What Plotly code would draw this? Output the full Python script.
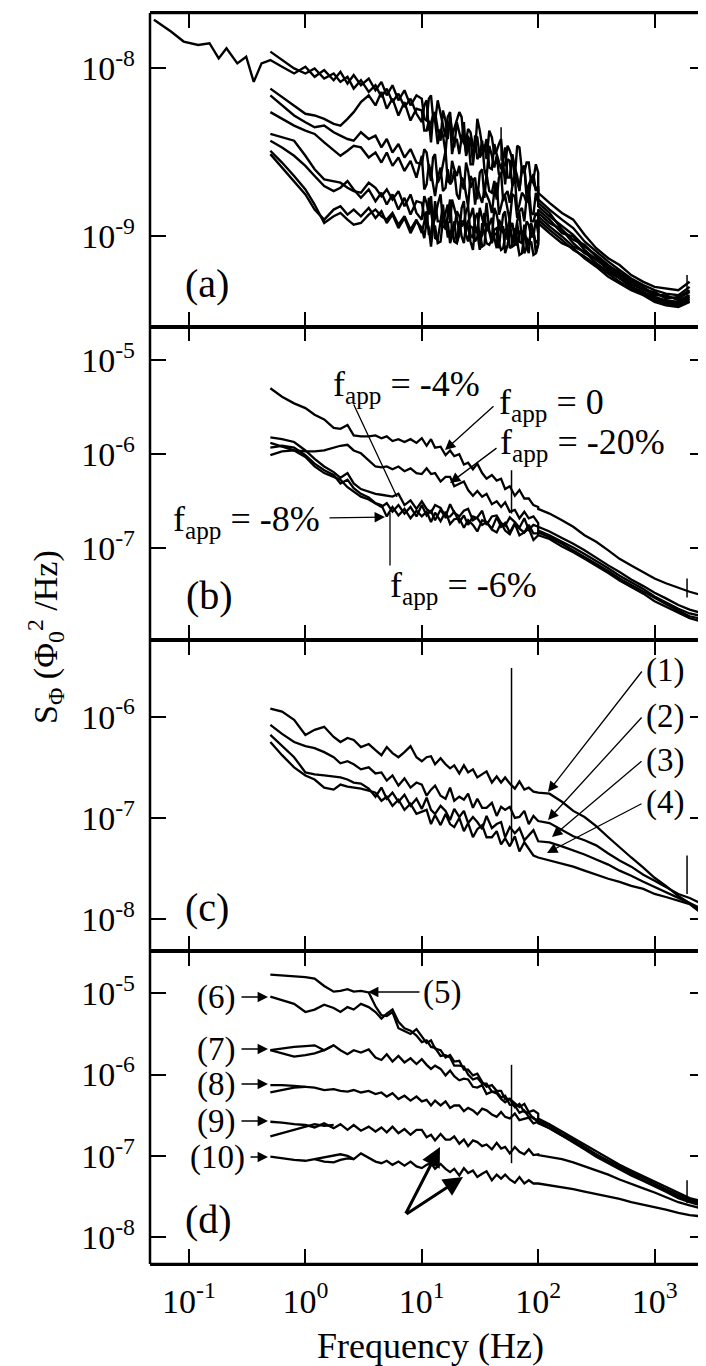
import plotly.graph_objects as go

# ---------------- data: frequencies in Hz, spectra given as log10(S_phi / (Phi0^2/Hz)) ----------------
F_LOW = [0.5, 0.63, 0.8, 1.0, 1.2, 1.45, 1.75, 2.0, 2.3, 2.6, 3.0, 3.5, 4.0, 4.5, 5.0, 5.6, 6.3, 7.1, 8.0, 9.0,
         10, 11, 12, 13, 14.5, 16, 17.5, 19, 21, 23, 25, 27.5, 30, 33, 36, 40, 44, 48, 52, 57, 63, 69, 76, 83, 91, 100]
F_HIGH = [100, 125, 160, 200, 250, 315, 400, 500, 630, 800, 1000, 1250, 1600, 2000, 2800]
F_LEAD = [0.05, 0.07, 0.09, 0.12, 0.15, 0.18, 0.21, 0.26, 0.31, 0.36, 0.42]
# extra readings in the dense 10-100 Hz band of panel (a)
F_EXTRA = [10.5, 11.5, 12.5, 13.7, 15.2, 16.7, 18.2, 20, 22, 24, 26.2, 28.7, 31.5, 34.5, 38, 42, 46, 50, 54.5, 60,
           66, 72.5, 79.5, 87, 95.5]

# panel (a)
A_LEAD = [-7.71, -7.78, -7.84, -7.86, -7.85, -7.94, -7.88, -7.97, -7.93, -8.08, -7.97]
A0_LOW = [-7.95, -7.99, -8.03, -7.99, -8.05, -8.01, -8.07, -8.02, -8.09, -8.04, -8.10, -8.06, -8.13, -8.08, -8.16, -8.10,
          -8.19, -8.13, -8.22, -8.16, -8.18, -8.31, -8.16, -8.32, -8.27, -8.41, -8.26, -8.36, -8.26, -8.45, -8.36, -8.46,
          -8.30, -8.46, -8.54, -8.41, -8.49, -8.42, -8.58, -8.49, -8.65, -8.47, -8.62, -8.56, -8.66, -8.62]
A0_EXTRA = [-8.30, -8.18, -8.29, -8.19, -8.34, -8.29, -8.40, -8.30, -8.29, -8.43, -8.38, -8.49, -8.37, -8.46, -8.37,
            -8.51, -8.45, -8.57, -8.46, -8.54, -8.46, -8.61, -8.56, -8.68, -8.57]
A0_HIGH = [-8.74, -8.80, -8.86, -8.90, -8.99, -9.07, -9.13, -9.17, -9.23, -9.27, -9.30, -9.31, -9.32, -9.27]
A1_LOW = [-7.90, -7.95, -8.00, -8.03, -8.00, -8.06, -8.03, -8.08, -8.05, -8.12, -8.07, -8.14, -8.10, -8.17, -8.12, -8.20,
          -8.15, -8.23, -8.18, -8.27, -8.32, -8.19, -8.32, -8.26, -8.43, -8.31, -8.29, -8.47, -8.39, -8.32, -8.48, -8.56,
          -8.41, -8.50, -8.42, -8.60, -8.51, -8.60, -8.47, -8.65, -8.59, -8.73, -8.58, -8.69, -8.63, -8.70]
A1_EXTRA = [-8.22, -8.37, -8.28, -8.36, -8.25, -8.42, -8.37, -8.32, -8.44, -8.52, -8.41, -8.40, -8.53, -8.48, -8.59,
            -8.45, -8.56, -8.54, -8.65, -8.51, -8.64, -8.59, -8.74, -8.66, -8.73]
A1_HIGH = [-8.78, -8.84, -8.90, -8.95, -9.03, -9.09, -9.15, -9.20, -9.25, -9.29, -9.32, -9.34, -9.35, -9.30]
A2_LOW = [-8.12, -8.17, -8.22, -8.27, -8.28, -8.30, -8.33, -8.34, -8.30, -8.26, -8.20, -8.16, -8.22, -8.14, -8.24, -8.18,
          -8.28, -8.20, -8.31, -8.24, -8.25, -8.37, -8.44, -8.31, -8.36, -8.50, -8.31, -8.44, -8.51, -8.42, -8.40, -8.57,
          -8.54, -8.43, -8.65, -8.52, -8.52, -8.64, -8.69, -8.55, -8.63, -8.72, -8.58, -8.76, -8.68, -8.72]
A2_EXTRA = [-8.37, -8.31, -8.28, -8.45, -8.40, -8.35, -8.51, -8.42, -8.41, -8.50, -8.57, -8.43, -8.51, -8.60, -8.46,
            -8.59, -8.63, -8.56, -8.54, -8.70, -8.68, -8.60, -8.77, -8.65, -8.72]
A2_HIGH = [-8.82, -8.88, -8.94, -8.99, -9.06, -9.11, -9.17, -9.22, -9.27, -9.31, -9.34, -9.36, -9.37, -9.33]
A3_LOW = [-8.16, -8.22, -8.28, -8.32, -8.35, -8.34, -8.38, -8.40, -8.42, -8.43, -8.38, -8.42, -8.40, -8.47, -8.42, -8.50,
          -8.45, -8.53, -8.48, -8.56, -8.57, -8.50, -8.67, -8.51, -8.64, -8.49, -8.68, -8.60, -8.58, -8.72, -8.61, -8.67,
          -8.78, -8.60, -8.63, -8.74, -8.78, -8.62, -8.75, -8.80, -8.64, -8.81, -8.76, -8.71, -8.87, -8.80]
A3_EXTRA = [-8.48, -8.59, -8.53, -8.68, -8.57, -8.67, -8.55, -8.64, -8.68, -8.56, -8.71, -8.65, -8.62, -8.77, -8.73,
            -8.67, -8.65, -8.79, -8.73, -8.70, -8.85, -8.74, -8.80, -8.86, -8.74]
A3_HIGH = [-8.80, -8.86, -8.96, -9.02, -9.05, -9.12, -9.18, -9.21, -9.26, -9.30, -9.35, -9.35, -9.38, -9.35]
A4_LOW = [-8.26, -8.30, -8.34, -8.37, -8.39, -8.44, -8.49, -8.52, -8.49, -8.46, -8.47, -8.53, -8.50, -8.56, -8.50, -8.58,
          -8.53, -8.61, -8.55, -8.65, -8.52, -8.69, -8.62, -8.76, -8.59, -8.71, -8.69, -8.61, -8.78, -8.67, -8.82, -8.67,
          -8.71, -8.80, -8.75, -8.86, -8.68, -8.82, -8.76, -8.91, -8.76, -8.85, -8.91, -8.78, -8.91, -8.88]
A4_EXTRA = [-8.72, -8.57, -8.69, -8.65, -8.73, -8.60, -8.67, -8.75, -8.65, -8.75, -8.64, -8.81, -8.76, -8.72, -8.79,
            -8.73, -8.87, -8.77, -8.85, -8.75, -8.89, -8.83, -8.77, -8.91, -8.86]
A4_HIGH = [-8.84, -8.90, -8.98, -9.00, -9.08, -9.14, -9.19, -9.23, -9.28, -9.32, -9.33, -9.37, -9.36, -9.32]
A5_LOW = [-8.39, -8.41, -8.43, -8.52, -8.60, -8.66, -8.67, -8.68, -8.71, -8.73, -8.74, -8.68, -8.71, -8.76, -8.72, -8.78,
          -8.73, -8.82, -8.75, -8.86, -8.90, -8.80, -8.76, -8.89, -8.75, -8.86, -8.92, -8.83, -8.98, -8.79, -8.91, -8.83,
          -8.97, -8.89, -8.80, -9.01, -8.87, -8.97, -8.85, -8.95, -9.02, -8.86, -9.01, -8.93, -9.00, -8.98]
A5_EXTRA = [-8.76, -8.87, -8.93, -8.81, -8.92, -8.81, -8.78, -8.89, -8.83, -8.97, -8.88, -8.94, -8.83, -8.94, -8.97,
            -8.83, -8.94, -8.87, -9.02, -8.92, -8.91, -9.03, -8.91, -9.00, -8.90]
A5_HIGH = [-8.86, -8.92, -8.96, -9.04, -9.10, -9.13, -9.20, -9.24, -9.29, -9.31, -9.36, -9.38, -9.39, -9.36]
A6_LOW = [-8.43, -8.47, -8.52, -8.58, -8.64, -8.70, -8.73, -8.71, -8.67, -8.72, -8.77, -8.72, -8.79, -8.74, -8.81, -8.75,
          -8.84, -8.77, -8.87, -8.79, -8.80, -8.95, -8.85, -8.79, -8.91, -8.96, -8.78, -8.96, -8.88, -8.92, -8.82, -9.01,
          -8.86, -8.99, -8.97, -8.89, -9.07, -8.93, -8.96, -8.90, -9.05, -9.03, -8.93, -9.10, -8.97, -9.02]
A6_EXTRA = [-8.87, -8.77, -8.93, -8.91, -8.81, -8.88, -8.97, -8.85, -8.94, -8.85, -8.99, -8.89, -9.03, -8.86, -8.93,
            -9.01, -8.90, -8.98, -8.95, -9.06, -8.92, -9.04, -9.06, -8.92, -9.04]
A6_HIGH = [-8.88, -8.94, -9.00, -9.06, -9.09, -9.16, -9.21, -9.25, -9.30, -9.33, -9.37, -9.39, -9.40, -9.37]
A7_LOW = [-8.49, -8.56, -8.64, -8.72, -8.81, -8.92, -8.88, -8.86, -8.90, -8.93, -8.92, -8.87, -8.84, -8.88, -8.90, -8.86,
          -8.93, -8.88, -8.96, -8.90, -8.98, -8.85, -8.98, -9.01, -8.91, -8.95, -9.04, -8.91, -8.99, -8.91, -9.03, -8.95,
          -9.00, -9.06, -8.92, -9.04, -8.98, -8.95, -9.10, -8.98, -9.04, -8.97, -9.10, -9.02, -8.96, -9.04]
A7_EXTRA = [-8.92, -8.99, -8.89, -9.02, -8.94, -8.91, -9.00, -9.04, -8.91, -8.99, -8.94, -9.03, -8.97, -9.05, -8.97,
            -8.99, -9.07, -8.94, -9.05, -9.00, -9.05, -8.97, -9.06, -8.99, -9.10]
A7_HIGH = [-8.90, -8.96, -9.02, -9.08, -9.12, -9.17, -9.22, -9.27, -9.31, -9.34, -9.38, -9.40, -9.41, -9.38]
A8_LOW = [-8.51, -8.59, -8.67, -8.75, -8.84, -8.90, -8.84, -8.82, -8.87, -8.84, -8.88, -8.83, -8.89, -8.85, -8.92, -8.87,
          -8.95, -8.89, -8.98, -8.91, -8.95, -8.91, -9.06, -8.94, -9.03, -8.91, -9.00, -9.03, -8.91, -9.04, -8.94, -9.08,
          -8.98, -8.92, -9.04, -9.02, -8.95, -9.08, -9.00, -9.07, -8.95, -9.11, -8.99, -9.05, -9.11, -9.05]
A8_EXTRA = [-9.01, -8.95, -8.94, -9.04, -8.90, -9.00, -8.94, -9.04, -9.00, -8.93, -9.03, -8.95, -9.08, -8.99, -9.05,
            -8.96, -9.04, -9.07, -8.95, -9.05, -9.03, -9.10, -9.01, -9.03, -9.10]
A8_HIGH = [-8.92, -8.98, -9.04, -9.07, -9.13, -9.18, -9.24, -9.28, -9.32, -9.35, -9.39, -9.41, -9.42, -9.39]
SPIKE_A_F = [[48, 48], [1900, 1900]]
SPIKE_A_V = [[-8.35, -8.55], [-9.23, -9.36]]

# panel (b): f_app = 0, -20%, -4%, -8%, -6%
B0_LOW = [-5.30, -5.39, -5.46, -5.51, -5.58, -5.63, -5.72, -5.73, -5.69, -5.80, -5.81, -5.81, -5.80, -5.83, -5.81, -5.86,
          -5.84, -5.87, -5.84, -5.88, -5.83, -5.91, -5.84, -5.93, -5.92, -6.01, -5.96, -6.02, -6.00, -6.11, -6.09, -6.16,
          -6.10, -6.20, -6.26, -6.22, -6.28, -6.26, -6.37, -6.34, -6.44, -6.38, -6.47, -6.47, -6.54, -6.56]
B0_HIGH = [-6.58, -6.63, -6.70, -6.77, -6.86, -6.93, -7.02, -7.11, -7.18, -7.25, -7.32, -7.37, -7.42, -7.46, -7.51]
B1_LOW = [-5.88, -5.92, -5.96, -5.97, -5.97, -5.96, -5.93, -5.91, -5.90, -5.96, -5.99, -6.06, -6.13, -6.14, -6.13, -6.16,
          -6.13, -6.18, -6.15, -6.20, -6.21, -6.15, -6.21, -6.20, -6.29, -6.24, -6.24, -6.34, -6.31, -6.29, -6.38, -6.44,
          -6.39, -6.45, -6.42, -6.53, -6.50, -6.56, -6.51, -6.61, -6.59, -6.68, -6.61, -6.68, -6.66, -6.73]
B1_HIGH = [-6.77, -6.82, -6.89, -6.95, -7.02, -7.10, -7.18, -7.25, -7.33, -7.40, -7.47, -7.53, -7.60, -7.65, -7.70]
B2_LOW = [-5.82, -5.84, -5.87, -5.96, -6.05, -6.13, -6.19, -6.25, -6.20, -6.31, -6.37, -6.40, -6.42, -6.43, -6.44, -6.45,
          -6.42, -6.54, -6.49, -6.58, -6.50, -6.58, -6.62, -6.54, -6.57, -6.66, -6.53, -6.62, -6.66, -6.60, -6.58, -6.70,
          -6.67, -6.60, -6.75, -6.66, -6.65, -6.73, -6.76, -6.67, -6.72, -6.78, -6.68, -6.80, -6.75, -6.77]
B2_HIGH = [-6.81, -6.86, -6.93, -6.99, -7.06, -7.13, -7.21, -7.29, -7.36, -7.43, -7.51, -7.57, -7.64, -7.69, -7.73]
B3_LOW = [-5.93, -5.91, -5.93, -6.01, -6.10, -6.17, -6.22, -6.31, -6.27, -6.36, -6.42, -6.46, -6.52, -6.54, -6.66, -6.56,
          -6.65, -6.58, -6.68, -6.60, -6.66, -6.61, -6.72, -6.62, -6.71, -6.61, -6.74, -6.69, -6.68, -6.78, -6.70, -6.75,
          -6.82, -6.70, -6.72, -6.80, -6.83, -6.73, -6.81, -6.85, -6.74, -6.86, -6.83, -6.79, -6.91, -6.86]
B3_HIGH = [-6.83, -6.88, -6.95, -7.02, -7.09, -7.16, -7.24, -7.32, -7.39, -7.46, -7.53, -7.59, -7.66, -7.72, -7.76]
B4_LOW = [-6.01, -5.97, -5.96, -6.03, -6.13, -6.20, -6.24, -6.27, -6.35, -6.40, -6.45, -6.48, -6.52, -6.56, -6.52, -6.61,
          -6.54, -6.63, -6.56, -6.66, -6.54, -6.65, -6.60, -6.70, -6.59, -6.67, -6.66, -6.61, -6.72, -6.65, -6.75, -6.66,
          -6.68, -6.75, -6.72, -6.79, -6.67, -6.77, -6.73, -6.83, -6.73, -6.79, -6.83, -6.75, -6.84, -6.84]
B4_HIGH = [-6.86, -6.90, -6.98, -7.04, -7.11, -7.18, -7.26, -7.34, -7.41, -7.48, -7.56, -7.62, -7.68, -7.74, -7.79]
SPIKE_B_F = [[59, 59], [1900, 1900]]
SPIKE_B_V = [[-6.17, -6.63], [-7.32, -7.52]]

# panel (c): curves (1)-(4)
C1_LOW = [-5.92, -5.95, -6.03, -6.18, -6.13, -6.10, -6.20, -6.25, -6.21, -6.23, -6.30, -6.27, -6.33, -6.38, -6.30, -6.36,
          -6.40, -6.35, -6.29, -6.40, -6.44, -6.40, -6.39, -6.47, -6.41, -6.47, -6.51, -6.48, -6.56, -6.48, -6.55, -6.52,
          -6.60, -6.57, -6.54, -6.65, -6.59, -6.65, -6.60, -6.66, -6.71, -6.64, -6.72, -6.70, -6.74, -6.75]
C1_HIGH = [-6.75, -6.76, -6.84, -6.93, -6.99, -7.08, -7.19, -7.29, -7.39, -7.49, -7.59, -7.67, -7.77, -7.84, -7.96]
C2_LOW = [-6.08, -6.17, -6.25, -6.29, -6.31, -6.35, -6.40, -6.46, -6.44, -6.47, -6.52, -6.50, -6.56, -6.55, -6.63, -6.58,
          -6.68, -6.61, -6.70, -6.65, -6.67, -6.78, -6.72, -6.68, -6.78, -6.81, -6.70, -6.83, -6.79, -6.82, -6.76, -6.90,
          -6.81, -6.90, -6.90, -6.85, -6.98, -6.89, -6.92, -6.89, -7.00, -6.99, -6.93, -7.06, -6.98, -7.03]
C2_HIGH = [-7.03, -7.05, -7.12, -7.18, -7.22, -7.27, -7.35, -7.42, -7.48, -7.56, -7.62, -7.68, -7.75, -7.79, -7.87]
C3_LOW = [-6.18, -6.29, -6.40, -6.55, -6.57, -6.58, -6.59, -6.60, -6.62, -6.65, -6.66, -6.71, -6.79, -6.70, -6.81, -6.75,
          -6.84, -6.77, -6.88, -6.81, -6.91, -6.80, -6.92, -6.96, -6.88, -6.93, -7.02, -6.91, -6.99, -6.93, -7.05, -6.99,
          -7.04, -7.11, -6.98, -7.10, -7.06, -7.04, -7.19, -7.09, -7.15, -7.10, -7.22, -7.17, -7.12, -7.23]
C3_HIGH = [-7.23, -7.24, -7.28, -7.32, -7.36, -7.41, -7.46, -7.52, -7.57, -7.63, -7.68, -7.73, -7.79, -7.84, -7.92]
C4_LOW = [-6.25, -6.38, -6.50, -6.58, -6.62, -6.70, -6.72, -6.67, -6.69, -6.70, -6.71, -6.73, -6.75, -6.83, -6.79, -6.88,
          -6.82, -6.92, -6.86, -6.96, -6.94, -6.92, -7.06, -6.97, -7.07, -6.96, -7.06, -7.09, -7.00, -7.13, -7.05, -7.19,
          -7.11, -7.07, -7.19, -7.19, -7.13, -7.26, -7.20, -7.28, -7.18, -7.33, -7.24, -7.31, -7.37, -7.39]
C4_HIGH = [-7.39, -7.42, -7.45, -7.48, -7.52, -7.56, -7.60, -7.63, -7.67, -7.70, -7.75, -7.78, -7.82, -7.85, -7.98]
SPIKE_C_F = [[59, 59], [1900, 1900]]
SPIKE_C_V = [[-5.52, -7.25], [-7.37, -7.75]]

# panel (d): curves (5)-(10)
D5_LOW = [-4.77, -4.78, -4.79, -4.80, -4.82, -4.91, -4.98, -4.97, -4.95, -4.98, -4.97, -4.99, -5.16, -5.27, -5.28, -5.23,
          -5.43, -5.47, -5.50, -5.44, -5.53, -5.61, -5.58, -5.68, -5.70, -5.79, -5.76, -5.84, -5.83, -5.94, -5.94, -6.01,
          -5.99, -6.09, -6.15, -6.13, -6.20, -6.20, -6.30, -6.30, -6.40, -6.36, -6.46, -6.47, -6.54, -6.56]
D5_HIGH = [-6.57, -6.63, -6.73, -6.80, -6.89, -6.98, -7.06, -7.13, -7.20, -7.28, -7.34, -7.41, -7.48, -7.53, -7.59]
D6_LOW = [-5.04, -5.08, -5.13, -5.23, -5.20, -5.14, -5.18, -5.23, -5.17, -5.20, -5.13, -5.17, -5.23, -5.31, -5.25, -5.20,
          -5.35, -5.43, -5.46, -5.52, -5.60, -5.58, -5.66, -5.67, -5.77, -5.76, -5.79, -5.89, -5.89, -5.90, -6.00, -6.06,
          -6.04, -6.11, -6.11, -6.21, -6.21, -6.28, -6.26, -6.37, -6.38, -6.47, -6.44, -6.52, -6.53, -6.59]
D6_HIGH = [-6.59, -6.66, -6.75, -6.82, -6.91, -6.99, -7.07, -7.15, -7.22, -7.30, -7.36, -7.43, -7.50, -7.55, -7.61]
D7_LOW = [-5.70, -5.68, -5.66, -5.65, -5.64, -5.70, -5.64, -5.70, -5.75, -5.70, -5.73, -5.69, -5.79, -5.82, -5.75, -5.84,
          -5.77, -5.85, -5.80, -5.87, -5.81, -5.88, -5.93, -5.89, -5.93, -6.01, -5.95, -6.02, -6.07, -6.05, -6.06, -6.15,
          -6.16, -6.13, -6.24, -6.21, -6.23, -6.30, -6.34, -6.30, -6.35, -6.40, -6.36, -6.46, -6.44, -6.48]
D7_HIGH = [-6.54, -6.61, -6.70, -6.78, -6.86, -6.95, -7.03, -7.11, -7.18, -7.25, -7.32, -7.39, -7.46, -7.52, -7.57]
D8_LOW = [-6.13, -6.13, -6.14, -6.15, -6.16, -6.19, -6.18, -6.20, -6.21, -6.19, -6.22, -6.20, -6.24, -6.22, -6.27, -6.23,
          -6.30, -6.26, -6.32, -6.27, -6.33, -6.31, -6.38, -6.32, -6.38, -6.33, -6.41, -6.38, -6.38, -6.45, -6.41, -6.44,
          -6.49, -6.42, -6.44, -6.49, -6.52, -6.46, -6.52, -6.54, -6.48, -6.56, -6.54, -6.53, -6.60, -6.58]
D8_HIGH = [-6.60, -6.66, -6.75, -6.84, -6.92, -7.01, -7.09, -7.16, -7.24, -7.31, -7.37, -7.44, -7.52, -7.57, -7.63]
D9_LOW = [-6.58, -6.59, -6.61, -6.62, -6.65, -6.60, -6.66, -6.61, -6.68, -6.62, -6.69, -6.64, -6.70, -6.65, -6.71, -6.64,
          -6.72, -6.67, -6.74, -6.68, -6.68, -6.77, -6.74, -6.81, -6.73, -6.80, -6.80, -6.76, -6.85, -6.80, -6.88, -6.81,
          -6.83, -6.88, -6.86, -6.92, -6.84, -6.91, -6.89, -6.97, -6.89, -6.95, -6.98, -6.92, -6.99, -6.98]
D9_HIGH = [-6.99, -7.01, -7.04, -7.08, -7.13, -7.18, -7.23, -7.29, -7.34, -7.40, -7.45, -7.51, -7.57, -7.61, -7.66]
D10_LOW = [-7.01, -7.03, -7.05, -7.06, -7.04, -7.02, -6.99, -6.98, -7.00, -7.04, -6.97, -7.02, -7.07, -7.09, -7.06, -7.11,
           -7.07, -7.12, -7.07, -7.13, -7.15, -7.11, -7.09, -7.16, -7.10, -7.16, -7.20, -7.16, -7.24, -7.15, -7.21, -7.18,
           -7.26, -7.22, -7.19, -7.30, -7.23, -7.28, -7.23, -7.29, -7.33, -7.26, -7.34, -7.30, -7.34, -7.34]
D10_HIGH = [-7.34, -7.36, -7.39, -7.41, -7.44, -7.47, -7.50, -7.53, -7.57, -7.60, -7.63, -7.66, -7.70, -7.73, -7.75]
# short companion traces at the start of (7)-(10)
LOOP_F = [[0.5, 0.63, 0.8, 1.0, 1.2, 1.45, 1.75], [0.5, 0.63, 0.8, 1.0],
          [0.5, 0.63, 0.8, 1.0, 1.2, 1.45, 1.75], [1.2, 1.45, 1.75, 2.0, 2.3, 2.6]]
LOOP_V = [[-5.70, -5.74, -5.78, -5.76, -5.74, -5.70, -5.64], [-6.22, -6.19, -6.16, -6.15],
          [-6.76, -6.72, -6.68, -6.64, -6.61, -6.63, -6.62], [-7.04, -7.07, -7.08, -7.05, -7.03, -7.04]]
SPIKE_D_F = [[59, 59], [1900, 1900]]
SPIKE_D_V = [[-5.88, -7.09], [-7.30, -7.58]]

Y_TICKS = {1: [-9, -8], 2: [-7, -6, -5], 3: [-8, -7, -6], 4: [-8, -7, -6, -5]}
Y_RANGES = {1: [-9.536, -7.670], 2: [-7.972, -4.644], 3: [-8.310, -5.243], 4: [-8.330, -4.476]}
X_TICKS = [-1, 0, 1, 2, 3]

# ---------------- layout geometry (page pixel positions; the page body adds an 8 px margin) ----------------
OFF = 8
W, H = 706 - OFF, 1366 - OFF
L, R, T = 150 - OFF, 0, 13 - OFF
B = H - (1264 - OFF)
PW, PH = W - L - R, H - T - B
BORDERS = [13, 326.5, 640, 950.7, 1264]
FONT = "Liberation Serif, Times New Roman, serif"


def P(x, y):
    return (x - OFF - L) / PW, (H - B - (y - OFF)) / PH


fig = go.Figure()
LW = 2.3


def add(panel, xs, logs, width=LW):
    fig.add_trace(go.Scatter(x=xs, y=[10 ** v for v in logs], mode="lines",
                             line=dict(color="black", width=width),
                             xaxis="x" if panel == 1 else f"x{panel}",
                             yaxis="y" if panel == 1 else f"y{panel}",
                             showlegend=False, hoverinfo="skip"))


def merged(lo, extra):
    pts = sorted(list(zip(F_LOW, lo)) + list(zip(F_EXTRA, extra)))
    return [p[0] for p in pts], [p[1] for p in pts]


F_HIGH_A = F_HIGH[:14]
fx, fv = merged(A0_LOW, A0_EXTRA)
add(1, F_LEAD + fx + F_HIGH_A, A_LEAD + fv + A0_HIGH, 2.4)
for lo, ex, hi in [(A1_LOW, A1_EXTRA, A1_HIGH), (A2_LOW, A2_EXTRA, A2_HIGH), (A3_LOW, A3_EXTRA, A3_HIGH),
                   (A4_LOW, A4_EXTRA, A4_HIGH), (A5_LOW, A5_EXTRA, A5_HIGH), (A6_LOW, A6_EXTRA, A6_HIGH),
                   (A7_LOW, A7_EXTRA, A7_HIGH), (A8_LOW, A8_EXTRA, A8_HIGH)]:
    fx, fv = merged(lo, ex)
    add(1, fx + F_HIGH_A, fv + hi, 2.4)
for f, v in zip(SPIKE_A_F, SPIKE_A_V):
    add(1, f, v, 1.5)

for lo, hi in [(B0_LOW, B0_HIGH), (B1_LOW, B1_HIGH), (B2_LOW, B2_HIGH), (B3_LOW, B3_HIGH), (B4_LOW, B4_HIGH)]:
    add(2, F_LOW + F_HIGH, lo + hi)
for f, v in zip(SPIKE_B_F, SPIKE_B_V):
    add(2, f, v, 1.5)

for lo, hi in [(C1_LOW, C1_HIGH), (C2_LOW, C2_HIGH), (C3_LOW, C3_HIGH), (C4_LOW, C4_HIGH)]:
    add(3, F_LOW + F_HIGH, lo + hi)
for f, v in zip(SPIKE_C_F, SPIKE_C_V):
    add(3, f, v, 1.5)

for lo, hi in [(D5_LOW, D5_HIGH), (D6_LOW, D6_HIGH), (D7_LOW, D7_HIGH), (D8_LOW, D8_HIGH),
               (D9_LOW, D9_HIGH), (D10_LOW, D10_HIGH)]:
    add(4, F_LOW + F_HIGH, lo + hi)
for f, v in zip(LOOP_F, LOOP_V):
    add(4, f, v)
for f, v in zip(SPIKE_D_F, SPIKE_D_V):
    add(4, f, v, 1.5)

layout = dict(width=W, height=H, margin=dict(l=L, r=R, t=T, b=B, pad=0),
              paper_bgcolor="white", plot_bgcolor="white", showlegend=False,
              font=dict(family=FONT, color="black"))

for i in range(1, 5):
    top = (H - B - (BORDERS[i - 1] - OFF)) / PH
    bot = (H - B - (BORDERS[i] - OFF)) / PH
    xk = "xaxis" if i == 1 else f"xaxis{i}"
    yk = "yaxis" if i == 1 else f"yaxis{i}"
    layout[xk] = dict(type="log", range=[-1.335, 3.4416], domain=[0, 1],
                      anchor="y" if i == 1 else f"y{i}",
                      showline=True, mirror="ticks", linecolor="black", linewidth=1.6,
                      ticks="inside", ticklen=15, tickwidth=2, tickcolor="black",
                      tickvals=[10 ** e for e in X_TICKS],
                      ticktext=[f"10<sup>{e}</sup>" for e in X_TICKS],
                      showticklabels=(i == 4), tickfont=dict(size=34, family=FONT),
                      ticklabelstandoff=6,
                      showgrid=False, zeroline=False)
    if i > 1:
        layout[xk]["matches"] = "x"
    layout[yk] = dict(type="log", range=Y_RANGES[i], domain=[max(bot, 0), min(top, 1)],
                      anchor="x" if i == 1 else f"x{i}",
                      showline=False, mirror="ticks",
                      ticks="inside", ticklen=16, tickwidth=2, tickcolor="black",
                      tickvals=[10 ** e for e in Y_TICKS[i]],
                      ticktext=[f"10<sup>{e}</sup>" for e in Y_TICKS[i]],
                      tickfont=dict(size=34, family=FONT), ticklabelstandoff=14,
                      showgrid=False, zeroline=False)

fig.update_layout(**layout)

# frame: left edge, top and bottom edges
fig.add_shape(type="line", xref="paper", yref="paper", x0=0, x1=0, y0=0, y1=1,
              line=dict(color="black", width=2.5))
fig.add_shape(type="line", xref="paper", yref="paper", x0=0, x1=1, y0=1, y1=1,
              line=dict(color="black", width=2.5))
fig.add_shape(type="line", xref="paper", yref="paper", x0=0, x1=1, y0=0, y1=0,
              line=dict(color="black", width=2.5))

ann = []


def text(x, y, s, size=33, xanchor="center", angle=0):
    px, py = P(x, y)
    ann.append(dict(x=px, y=py, xref="paper", yref="paper", text=s, showarrow=False,
                    xanchor=xanchor, yanchor="middle", textangle=angle,
                    font=dict(size=size, family=FONT, color="black")))


def arrow(x0, y0, x1, y1, head=True, width=1.3, size=1.6):
    px, py = P(x1, y1)
    ann.append(dict(x=px, y=py, xref="paper", yref="paper", text="", showarrow=True,
                    ax=x0 - x1, ay=y0 - y1, axref="pixel", ayref="pixel",
                    arrowhead=2 if head else 0, arrowsize=size, arrowwidth=width,
                    arrowcolor="black", standoff=0, startstandoff=0))


# panel labels
text(207, 283, "(a)", 40)
text(209, 595, "(b)", 40)
text(207, 907, "(c)", 40)
text(208, 1219, "(d)", 40)

# panel (b) labels
text(331, 386, "f<sub>app</sub> = -4%", 36, xanchor="left")
text(497, 405, "f<sub>app</sub> = 0", 36, xanchor="left")
text(498, 444, "f<sub>app</sub> = -20%", 36, xanchor="left")
text(171, 521, "f<sub>app</sub> = -8%", 36, xanchor="left")
text(388, 587, "f<sub>app</sub> = -6%", 36, xanchor="left")
arrow(353, 403, 397, 497, head=False)
arrow(495, 405, 445, 450)
arrow(498, 447, 450, 483)
arrow(328, 518, 385, 517)
arrow(390, 567, 390, 513, head=False)

# panel (c) labels
for lab, yy, tip in [("(1)", 670, (548, 792)), ("(2)", 716, (548, 820)),
                     ("(3)", 760, (552, 837)), ("(4)", 803, (547, 853))]:
    text(665, yy, lab)
    arrow(643, yy, tip[0], tip[1])

# panel (d) labels
for lab, yy, x0 in [("(6)", 997, 240), ("(7)", 1049, 240), ("(8)", 1084, 240),
                    ("(9)", 1121, 240), ("(10)", 1157, 249)]:
    text(216 if lab != "(10)" else 217, yy, lab)
    arrow(x0, yy, 268, yy)
text(442, 993, "(5)")
arrow(421, 992, 368, 992)
arrow(405, 1215, 440, 1147, width=3, size=1.3)
arrow(405, 1215, 463, 1177, width=3, size=1.3)

# axis titles
text(430, 1346, "Frequency (Hz)", 36)
text(45, 637, "S<sub>Φ</sub> (Φ<sub>0</sub><sup>2</sup> /Hz)", 34, angle=-90)

fig.update_layout(annotations=ann)
fig.write_html("out.html")
